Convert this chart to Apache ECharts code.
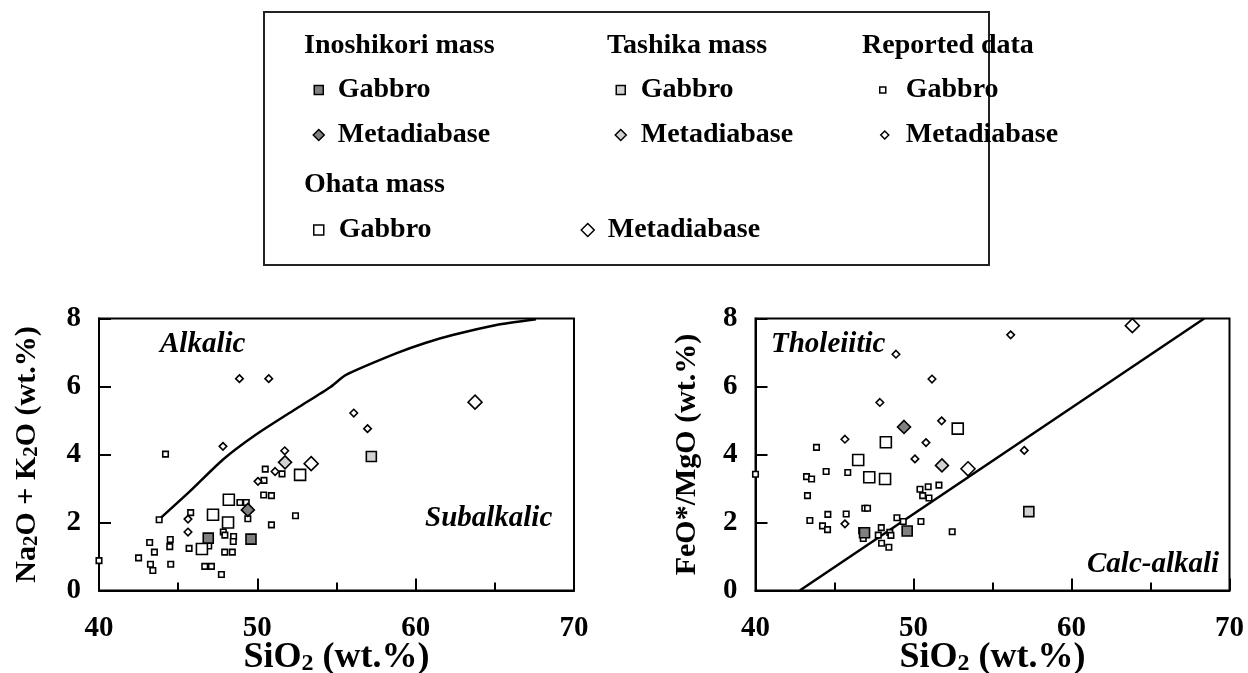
<!DOCTYPE html>
<html>
<head>
<meta charset="utf-8">
<script src="https://cdn.jsdelivr.net/npm/echarts@6/dist/echarts.min.js"></script>
<style>
html,body{margin:0;padding:0;background:#fff;}
#c{width:1248px;height:673px;}
</style>
</head>
<body>
<div id="c"></div>
<script>
// ---------- DATA ----------
// Left panel: SiO2 vs Na2O + K2O ; Right panel: SiO2 vs FeO*/MgO
const xTicks = [40, 50, 60, 70];
const yTicks = [0, 2, 4, 6, 8];

const inoGabbroTAS = [[46.9, 1.54], [49.6, 1.51]];
const inoGabbroFM  = [[46.9, 1.70], [49.6, 1.75]];
const inoMetaTAS   = [[49.4, 2.37]];
const inoMetaFM    = [[49.4, 4.81]];

const tasGabbroTAS = [[57.2, 3.94]];
const tasGabbroFM  = [[57.3, 2.32]];
const tasMetaTAS   = [[51.75, 3.77]];
const tasMetaFM    = [[51.8, 3.68]];

const ohaGabbroTAS = [[46.5, 1.22], [47.2, 2.23], [48.15, 2.0], [48.2, 2.67], [52.7, 3.40]];
const ohaGabbroFM  = [[46.5, 3.84], [47.2, 3.33], [48.2, 3.28], [48.25, 4.36], [52.8, 4.76]];
const ohaMetaTAS   = [[53.4, 3.73], [63.75, 5.54]];
const ohaMetaFM    = [[53.45, 3.58], [63.85, 7.79]];

const repGabbroTAS = [
  [40.0, 0.88], [42.5, 0.96], [43.2, 1.41], [43.5, 1.13], [43.25, 0.77], [43.4, 0.59],
  [43.8, 2.08], [44.2, 4.01], [44.5, 1.5], [44.47, 1.29], [44.53, 0.77], [45.69, 1.24],
  [45.79, 2.29], [46.68, 0.71], [47.1, 0.71], [46.93, 1.31], [47.73, 0.47], [47.85, 1.72],
  [47.95, 1.63], [48.5, 1.59], [48.48, 1.44], [47.94, 1.13], [48.42, 1.13], [48.9, 2.59],
  [49.3, 2.59], [49.4, 2.11], [50.89, 1.93], [52.41, 2.20], [50.40, 2.81], [50.89, 2.79],
  [50.42, 3.24], [50.5, 3.57], [51.56, 3.43]
];
const repGabbroFM = [
  [40.0, 3.42], [43.86, 4.21], [44.47, 3.5], [45.84, 3.47], [43.23, 3.35], [43.55, 3.28],
  [43.29, 2.79], [46.92, 2.42], [47.09, 2.42], [48.95, 2.14], [43.44, 2.06], [44.58, 2.24],
  [45.74, 2.25], [44.24, 1.90], [44.56, 1.79], [46.82, 1.53], [46.72, 1.76], [47.96, 1.85],
  [47.77, 1.63], [48.5, 1.71], [48.57, 1.62], [47.98, 1.39], [48.44, 1.27], [50.41, 2.98],
  [50.93, 3.05], [51.61, 3.10], [50.58, 2.79], [50.98, 2.72], [49.35, 2.03], [50.47, 2.03],
  [52.45, 1.73]
];
const repMetaTAS = [
  [45.62, 2.10], [45.62, 1.72], [47.83, 4.24], [48.87, 6.23], [50.72, 6.23],
  [50.04, 3.21], [51.12, 3.50], [51.73, 4.11], [56.09, 5.22], [56.96, 4.76]
];
const repMetaFM = [
  [48.89, 6.95], [51.17, 6.22], [47.87, 5.53], [51.78, 4.99], [45.66, 4.45],
  [50.79, 4.35], [50.09, 3.87], [45.66, 1.96], [56.15, 7.52], [57.01, 4.12]
];

// Boundary lines
const alkalicLine = [
  [43.7, 2.05], [45.7, 2.9], [47.8, 3.84], [49.9, 4.58], [52.5, 5.36], [54.6, 5.98],
  [55.6, 6.34], [58.8, 6.98], [60.6, 7.28], [62.4, 7.52], [65.1, 7.81], [67.6, 7.98]
];
const tholeiiticLine = [[42.8, 0], [68.4, 8]];

// ---------- STYLE ----------
const FONT = '"Liberation Serif","Times New Roman",serif';
const DARK = '#808080';
const LIGHT = '#d2d2d2';

const chart = echarts.init(document.getElementById('c'));

function axisX(gridIndex) {
  return {
    type: 'value', gridIndex: gridIndex, min: 40, max: 70, interval: 10,
    name: '{a|SiO}{b|2}{a| (wt.%)}',
    nameLocation: 'middle', nameGap: 49, nameMoveOverlap: false,
    nameTextStyle: {
      rich: {
        a: {fontFamily: FONT, fontWeight: 'bold', fontSize: 36, color: '#000', verticalAlign: 'bottom'},
        b: {fontFamily: FONT, fontWeight: 'bold', fontSize: 24, color: '#000', verticalAlign: 'bottom'}
      }
    },
    axisLine: {show: true, lineStyle: {color: '#000', width: 2}},
    axisTick: {show: true, inside: true, length: 12, lineStyle: {color: '#000', width: 2}},
    minorTick: {show: true, splitNumber: 2, length: 8, lineStyle: {color: '#000', width: 2}},
    splitLine: {show: false},
    axisLabel: {margin: 24, fontFamily: FONT, fontWeight: 'bold', fontSize: 29, color: '#000'}
  };
}
function axisY(gridIndex, nameParts, gap) {
  return {
    type: 'value', gridIndex: gridIndex, min: 0, max: 8, interval: 2,
    name: nameParts,
    nameLocation: 'middle', nameGap: gap, nameRotate: 90, nameMoveOverlap: false,
    nameTextStyle: {
      rich: {
        a: {fontFamily: FONT, fontWeight: 'bold', fontSize: 30, color: '#000', verticalAlign: 'bottom'},
        b: {fontFamily: FONT, fontWeight: 'bold', fontSize: 21, color: '#000', verticalAlign: 'bottom'}
      }
    },
    axisLine: {show: true, lineStyle: {color: '#000', width: 2}},
    axisTick: {show: true, inside: true, length: 12, lineStyle: {color: '#000', width: 2}},
    splitLine: {show: false},
    axisLabel: {margin: 18, fontFamily: FONT, fontWeight: 'bold', fontSize: 29, color: '#000'}
  };
}

const groups = [
  {name: 'Reported Gabbro', label: 'Gabbro', symbol: 'rect', size: 5.5, fill: '#fff', tas: repGabbroTAS, fm: repGabbroFM, lx: 882, tx: 905, ly: 88, ls: 6},
  {name: 'Reported Metadiabase', label: 'Metadiabase', symbol: 'diamond', size: 7.5, fill: '#fff', tas: repMetaTAS, fm: repMetaFM, lx: 884, tx: 905, ly: 133, ls: 8},
  {name: 'Ohata Gabbro', label: 'Gabbro', symbol: 'rect', size: 11, fill: '#fff', tas: ohaGabbroTAS, fm: ohaGabbroFM, lx: 318, tx: 338, ly: 228, ls: 10},
  {name: 'Ohata Metadiabase', label: 'Metadiabase', symbol: 'diamond', size: 14, fill: '#fff', tas: ohaMetaTAS, fm: ohaMetaFM, lx: 587, tx: 607, ly: 228, ls: 13},
  {name: 'Tashika Gabbro', label: 'Gabbro', symbol: 'rect', size: 10, fill: LIGHT, tas: tasGabbroTAS, fm: tasGabbroFM, lx: 620, tx: 640, ly: 88, ls: 9},
  {name: 'Tashika Metadiabase', label: 'Metadiabase', symbol: 'diamond', size: 13, fill: LIGHT, tas: tasMetaTAS, fm: tasMetaFM, lx: 620, tx: 640, ly: 133, ls: 11},
  {name: 'Inoshikori Gabbro', label: 'Gabbro', symbol: 'rect', size: 10, fill: DARK, tas: inoGabbroTAS, fm: inoGabbroFM, lx: 318, tx: 337, ly: 88, ls: 9},
  {name: 'Inoshikori Metadiabase', label: 'Metadiabase', symbol: 'diamond', size: 13, fill: DARK, tas: inoMetaTAS, fm: inoMetaFM, lx: 318, tx: 337, ly: 133, ls: 11}
];

const series = [
  {type: 'line', name: 'Alkalic/Subalkalic boundary', xAxisIndex: 0, yAxisIndex: 0, data: alkalicLine,
   showSymbol: false, symbol: 'none', smooth: 0.2, silent: true, lineStyle: {color: '#000', width: 2.5}, z: 1},
  {type: 'line', name: 'Tholeiitic/Calc-alkali boundary', xAxisIndex: 1, yAxisIndex: 1, data: tholeiiticLine,
   showSymbol: false, symbol: 'none', silent: true, lineStyle: {color: '#000', width: 2.5}, z: 1}
];
const legends = [];
const LEG_FS = 28, LEG_LH = 32, YSHIFT = 4;
groups.forEach(function (g, i) {
  [0, 1].forEach(function (k) {
    series.push({
      type: 'scatter', name: g.name, xAxisIndex: k, yAxisIndex: k,
      data: k === 0 ? g.tas : g.fm,
      symbol: g.symbol, symbolSize: g.size,
      itemStyle: {color: g.fill, borderColor: '#000', borderWidth: 1.6, opacity: 1},
      z: 2 + i
    });
  });
  const left = g.lx - g.ls / 2;
  const pad = g.tx - (left + g.ls + 5);
  legends.push({
    data: [g.name], left: left, top: g.ly + YSHIFT - LEG_LH / 2, padding: 0,
    itemWidth: g.ls, itemHeight: g.ls, itemGap: 0, selectedMode: false,
    itemStyle: {borderWidth: 1.5, borderColor: '#000'},
    formatter: function () { return '{t|' + g.label + '}'; },
    textStyle: {rich: {t: {fontFamily: FONT, fontWeight: 'bold', fontSize: LEG_FS, lineHeight: LEG_LH, color: '#000', padding: [0, 0, 0, pad]}}}
  });
});

function headerText(txt, x, y) {
  return {type: 'text', left: x, top: y - 12, style: {text: txt, font: 'bold 28px ' + FONT, fill: '#000'}};
}
function annot(txt, x, y) {
  return {type: 'text', left: x, top: y - 13, style: {text: txt, font: 'italic bold 29px ' + FONT, fill: '#000'}};
}

const option = {
  backgroundColor: '#fff',
  animation: false,
  grid: [
    {left: 99, top: 318.5, width: 475, height: 272, outerBoundsMode: 'none', containLabel: false,
     show: true, borderColor: '#000', borderWidth: 2, backgroundColor: 'transparent'},
    {left: 755.5, top: 318.5, width: 474, height: 272, outerBoundsMode: 'none', containLabel: false,
     show: true, borderColor: '#000', borderWidth: 2, backgroundColor: 'transparent'}
  ],
  xAxis: [axisX(0), axisX(1)],
  yAxis: [
    axisY(0, '{a|Na}{b|2}{a|O + K}{b|2}{a|O (wt.%)}', 57),
    axisY(1, '{a|FeO*/MgO (wt.%)}', 53)
  ],
  legend: legends,
  graphic: [
    {type: 'rect', shape: {x: 264, y: 12, width: 725, height: 253}, style: {fill: 'none', stroke: '#222', lineWidth: 2}},
    headerText('Inoshikori mass', 304, 44),
    headerText('Tashika mass', 607, 44),
    headerText('Reported data', 862, 44),
    headerText('Ohata mass', 304, 183),
    annot('Alkalic', 160, 343),
    annot('Subalkalic', 425, 517),
    annot('Tholeiitic', 771, 343),
    annot('Calc-alkali', 1087, 563)
  ],
  series: series
};
chart.setOption(option);
</script>
</body>
</html>
